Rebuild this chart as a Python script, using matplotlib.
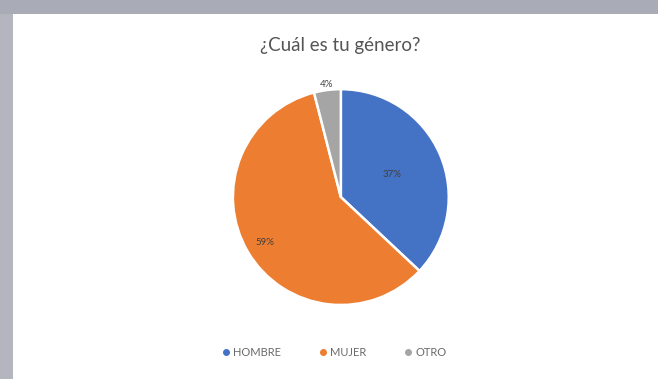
import numpy as np
import matplotlib
matplotlib.use("Agg")
import matplotlib.pyplot as plt
from matplotlib.patches import Rectangle

categorias = ["HOMBRE", "MUJER", "OTRO"]
porcentajes = [37, 59, 4]
colores = ["#4472C4", "#ED7D31", "#A5A5A5"]
titulo = "¿Cuál es tu género?"

plt.rcParams['font.family'] = ['Lato', 'DejaVu Sans']

fig = plt.figure(figsize=(6.58, 3.79), dpi=100)
fig.patch.set_facecolor("white")

# marco gris de la captura
fondo = fig.add_axes([0, 0, 1, 1], zorder=-1)
fondo.set_axis_off()
fondo.set_xlim(0, 1)
fondo.set_ylim(0, 1)
fondo.add_patch(Rectangle((0, 0.963), 1, 0.037, facecolor="#a9abb6", edgecolor="none"))
fondo.add_patch(Rectangle((0, 0), 0.02, 0.963, facecolor="#b4b6bf", edgecolor="none"))

ax = fig.add_axes([0.354, 0.195, 0.328, 0.570])
wedges, _ = ax.pie(porcentajes, colors=colores, startangle=90, counterclock=False,
                   wedgeprops=dict(edgecolor="white", linewidth=1.8))
ax.set_xlim(-1.0, 1.0)
ax.set_ylim(-1.0, 1.0)
ax.set_aspect("equal")

# etiquetas de datos
radios = [0.52, 0.82, 1.05]
for w, p, r in zip(wedges, porcentajes, radios):
    ang = np.deg2rad((w.theta1 + w.theta2) / 2)
    ax.text(r * np.cos(ang), r * np.sin(ang), f"{p}%", ha="center", va="center",
            fontsize=7, color="#404040")

fig.text(0.517, 0.88, titulo, ha="center", va="center", fontsize=13.5, color="#555555")

handles = [plt.Line2D([], [], marker="o", linestyle="", markersize=4, color=c) for c in colores]
fig.legend(handles, categorias, loc="center", bbox_to_anchor=(0.506, 0.07), ncol=3,
           frameon=False, fontsize=8, handletextpad=0.0, columnspacing=3.2,
           handlelength=1.2, labelcolor="#6a6a6a")

fig.savefig("out.png", dpi=100)
